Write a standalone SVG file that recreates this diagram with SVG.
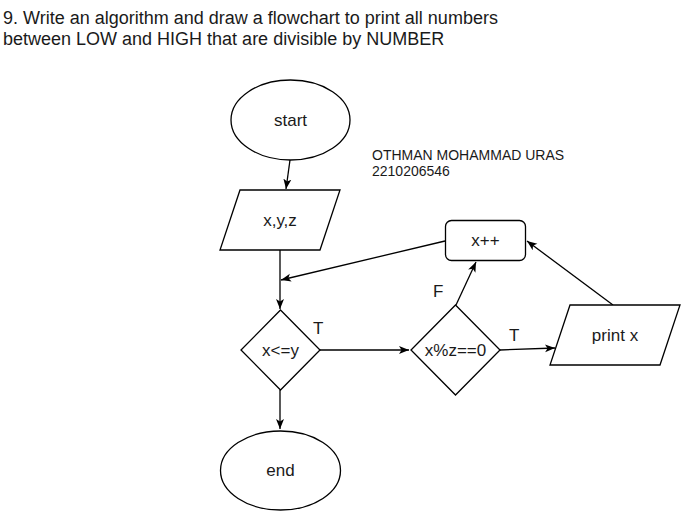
<svg xmlns="http://www.w3.org/2000/svg" width="681" height="511" viewBox="0 0 681 511">
<defs>
<marker id="ah" markerWidth="11" markerHeight="11" refX="10" refY="5.5" orient="auto" markerUnits="userSpaceOnUse">
<path d="M0,1.5 L10,5.5 L0,9.5 L2.5,5.5 Z" fill="#000"/>
</marker>
<style>
.s{fill:#fff;stroke:#000;stroke-width:1.3}
.t{font-family:"Liberation Sans",Arial,sans-serif;font-size:17px;fill:#1a1a1a;text-anchor:middle;dominant-baseline:central}
.c{fill:none;stroke:#000;stroke-width:1.3;marker-end:url(#ah)}
.l{font-family:"Liberation Sans",Arial,sans-serif;font-size:17px;fill:#1a1a1a}
.h{font-family:"Liberation Sans",Arial,sans-serif;font-size:18px;fill:#1a1a1a}
.a{font-family:"Liberation Sans",Arial,sans-serif;font-size:14px;fill:#1a1a1a}
</style>
</defs>
<rect width="681" height="511" fill="#fff"/>
<text class="h" x="3" y="24">9. Write an algorithm and draw a flowchart to print all numbers</text>
<text class="h" x="3" y="45">between LOW and HIGH that are divisible by NUMBER</text>
<g id="author">
<text class="a" x="372" y="160">OTHMAN MOHAMMAD URAS</text>
<text class="a" x="372" y="176">2210206546</text>
</g>
<g id="connectors">
<line class="c" x1="290" y1="160" x2="286" y2="189"/>
<line class="c" x1="280" y1="250" x2="280" y2="309"/>
<line class="c" x1="280" y1="390" x2="280" y2="429"/>
<line class="c" x1="320" y1="350" x2="409" y2="350"/>
<line class="c" x1="500" y1="350" x2="555" y2="348"/>
<line class="c" x1="456" y1="305" x2="476" y2="262"/>
<line class="c" x1="445" y1="241" x2="281" y2="280"/>
<line class="c" x1="613" y1="305" x2="527" y2="241"/>
<text class="l" x="313" y="334">T</text>
<text class="l" x="509" y="341">T</text>
<text class="l" x="433" y="297">F</text>
</g>
<g id="start">
<ellipse class="s" cx="290.5" cy="120" rx="59.5" ry="40"/>
<text class="t" x="290.5" y="120">start</text>
</g>
<g id="input">
<polygon class="s" points="240,190 340,190 320,250 220,250"/>
<text class="t" x="280" y="220">x,y,z</text>
</g>
<g id="cond1">
<polygon class="s" points="280.5,310 320,350 280.5,390 241,350"/>
<text class="t" x="280.5" y="350">x&lt;=y</text>
</g>
<g id="cond2">
<polygon class="s" points="455.5,305 500,350 455.5,395 411,350"/>
<text class="t" x="455.5" y="350">x%z==0</text>
</g>
<g id="inc">
<rect class="s" x="445.5" y="220.5" width="80" height="40" rx="6"/>
<text class="t" x="485.5" y="240.5">x++</text>
</g>
<g id="print">
<polygon class="s" points="570,305 680,305 660,365 550,365"/>
<text class="t" x="615" y="335">print x</text>
</g>
<g id="end">
<ellipse class="s" cx="280.5" cy="470.5" rx="60" ry="39.5"/>
<text class="t" x="280.5" y="470.5">end</text>
</g>
</svg>
